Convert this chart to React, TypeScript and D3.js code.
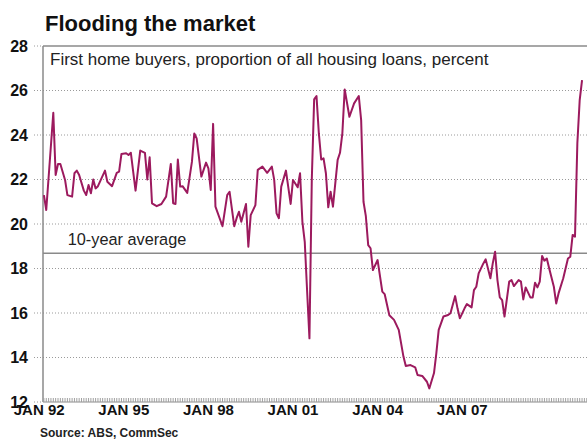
import React from "react";
import * as d3 from "d3";

// Month index counted from JAN 92 (0 = JAN 92)
const months = [
  2, 3, 6, 7, 8, 9, 11, 12, 14, 15, 16, 17, 19, 20, 21, 22, 23, 24, 25, 28, 29, 31, 33, 34, 35, 37, 38, 39,
  41, 43, 45, 46, 47, 48, 50, 52, 54, 56, 57, 58, 59, 60, 61, 63, 65, 66, 67, 69, 71, 72, 73, 74, 75, 78,
  80, 81, 83, 84, 85, 86, 88, 89, 90, 92, 93, 95, 97, 99, 100, 101, 102, 103, 105, 107, 108, 110, 111,
  112, 113, 114, 115, 116, 117, 118, 119, 120, 121, 122, 123, 124, 125, 127, 128, 129, 130, 132, 134,
  136, 137, 138, 139, 140, 141, 142, 144, 146, 147, 149, 151, 153, 155, 156, 158, 160, 161, 163, 165,
  166, 168, 169, 170, 172, 174, 175, 177, 178, 179, 181, 182, 184, 185, 186, 187, 189, 190, 192, 193,
  194, 195, 196, 197, 198, 200, 201, 202, 204, 205, 206, 207, 209, 210, 211, 212, 213, 214, 215, 216,
  217, 219, 220, 221, 223, 225, 226, 227, 228, 229, 230, 231,
];

const values = [
  21.3, 20.63, 25.0, 22.2, 22.7, 22.7, 21.98, 21.3, 21.23, 22.28, 22.4, 22.2, 21.5, 21.3, 21.75, 21.38,
  22.0, 21.6, 21.7, 22.4, 21.9, 21.7, 22.3, 22.35, 23.15, 23.18, 23.1, 23.2,
  21.5, 23.3, 23.2, 22.0, 23.0, 20.93, 20.8, 20.9, 21.23, 22.7, 20.93, 20.9, 22.9, 21.68, 21.7, 21.4,
  22.8, 24.07, 23.85, 22.13, 22.76, 22.5, 21.53, 24.5, 20.78, 19.9,
  21.3, 21.45, 19.9, 20.26, 20.55, 20.1, 20.9, 18.98, 20.4, 20.85, 22.43, 22.58, 22.3, 22.58, 21.98,
  20.48, 20.26, 21.68, 22.4, 20.9, 21.98, 21.65, 22.28,
  20.1, 19.2, 17.0, 14.86, 22.0, 25.6, 25.75, 24.07, 22.9, 22.95, 22.28, 20.75, 21.45, 20.78, 22.88,
  23.2, 24.07, 26.05, 24.82, 25.42,
  25.75, 24.67, 21.0, 20.35, 19.05, 18.91, 17.93, 18.38, 16.96, 16.85, 15.9, 15.69, 15.24, 14.04, 13.62,
  13.66, 13.56, 13.21, 13.17, 12.91,
  12.61, 13.3, 14.2, 15.24, 15.84, 15.91, 15.99, 16.76, 16.21, 15.76, 16.21, 16.4, 16.25, 17.03, 17.18,
  17.78, 18.23, 18.41, 17.56, 18.23,
  18.75, 17.48, 16.7, 16.58, 15.84, 17.41, 17.48, 17.21, 17.48, 17.41, 16.61, 17.15, 16.7, 16.7, 17.36,
  17.15, 17.41, 18.56, 18.35, 18.45,
  18.01, 17.18, 16.43, 16.88, 17.56, 18.45, 18.53, 19.51, 19.43, 23.63, 25.57, 26.47,
];

const yTicks = [12, 14, 16, 18, 20, 22, 24, 26, 28];
const xTickMonths = [0, 36, 72, 108, 144, 180];
const xTickLabels = ["JAN 92", "JAN 95", "JAN 98", "JAN 01", "JAN 04", "JAN 07"];
const tenYearAverage = 18.68;

const title = "Flooding the market";
const subtitle = "First home buyers, proportion of all housing loans, percent";
const averageLabel = "10-year average";
const source = "Source: ABS, CommSec";

const W = 587;
const H = 448;
const FONT = "'Liberation Sans', Arial, Helvetica, sans-serif";
const LINE = "#9c1a5e";
const AXIS = "#8a8a8a";

export default function App() {
  const plotLeft = 43;
  const plotRight = W;
  const x = d3.scaleLinear().domain([0, 180]).range([39.2, 462.2]);
  const y = d3.scaleLinear().domain([12, 28]).range([402, 46]);

  const data = months.map((m, i) => ({ m, v: values[i] }));
  const line = d3
    .line<{ m: number; v: number }>()
    .x((d) => x(d.m))
    .y((d) => y(d.v));

  const minorTicks: number[] = [];
  for (let m = 0; m < 260; m++) {
    const px = x(m);
    if (px >= plotLeft && px <= plotRight) minorTicks.push(m);
  }

  return (
    <svg
      width={W}
      height={H}
      style={{ position: "absolute", left: 0, top: 0, background: "#fff" }}
      fontFamily={FONT}
    >
      <rect x={0} y={0} width={W} height={H} fill="#fff" />
      <text x={45} y={31} fontSize={22} fontWeight="bold" fill="#111">
        {title}
      </text>

      {/* grid lines */}
      {yTicks.map((t) => (
        <line
          key={"g" + t}
          x1={34}
          x2={t === 28 || t === 12 ? plotLeft : plotRight}
          y1={y(t)}
          y2={y(t)}
          stroke="#9a9a9a"
          strokeWidth={1}
          strokeDasharray="1,2"
        />
      ))}
      {yTicks.map((t) => (
        <text
          key={"yl" + t}
          x={28}
          y={y(t)}
          dy="0.36em"
          textAnchor="end"
          fontSize={16}
          fontWeight="bold"
          fill="#111"
        >
          {t}
        </text>
      ))}

      {/* frame */}
      <line x1={plotLeft} x2={plotRight} y1={y(28)} y2={y(28)} stroke={AXIS} strokeWidth={1.5} />
      <line x1={plotLeft} x2={plotLeft} y1={y(28)} y2={y(12)} stroke={AXIS} strokeWidth={1.5} />
      <line x1={plotLeft} x2={plotRight} y1={y(12)} y2={y(12)} stroke={AXIS} strokeWidth={1} />
      {minorTicks.map((m) => (
        <line
          key={"mt" + m}
          x1={x(m)}
          x2={x(m)}
          y1={y(12) - 4}
          y2={y(12)}
          stroke="#a0a0a0"
          strokeWidth={1}
        />
      ))}

      {/* 10-year average */}
      <line
        x1={plotLeft}
        x2={plotRight}
        y1={y(tenYearAverage)}
        y2={y(tenYearAverage)}
        stroke={AXIS}
        strokeWidth={1.5}
      />
      <text x={127} y={245} textAnchor="middle" fontSize={16.3} fill="#222">
        {averageLabel}
      </text>

      <text x={50} y={65} fontSize={17} fill="#222">
        {subtitle}
      </text>

      <path d={line(data) || ""} fill="none" stroke={LINE} strokeWidth={2} strokeLinejoin="round" />

      {xTickMonths.map((m, i) => (
        <text
          key={"xl" + m}
          x={x(m)}
          y={415}
          textAnchor="middle"
          fontSize={15}
          fontWeight="bold"
          fill="#111"
        >
          {xTickLabels[i]}
        </text>
      ))}

      <text x={40} y={437} fontSize={12} fontWeight="bold" fill="#222">
        {source}
      </text>
    </svg>
  );
}
